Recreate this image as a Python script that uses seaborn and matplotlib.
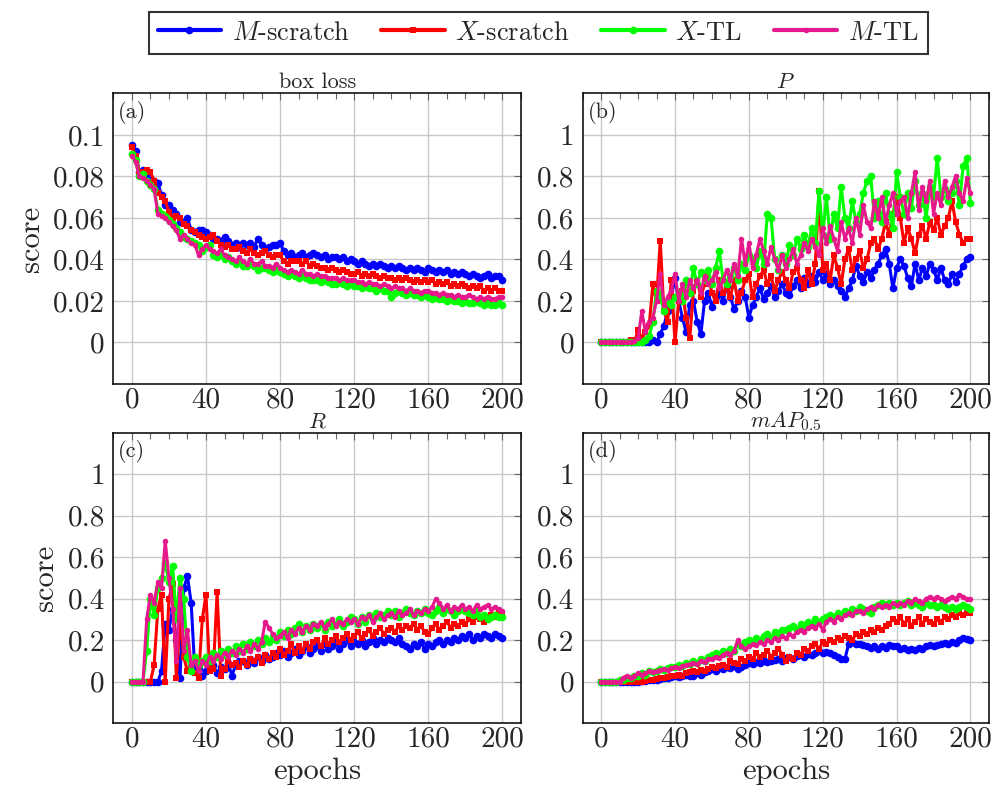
import matplotlib
matplotlib.use("Agg")
import matplotlib.pyplot as plt
import seaborn as sns
from matplotlib.ticker import MultipleLocator, FixedLocator
from matplotlib.lines import Line2D

# epochs sampled every 2
epochs = list(range(0, 201, 2))

series_names = [r"$M$-scratch", r"$X$-scratch", r"$X$-TL", r"$M$-TL"]
series_colors = ["#0000ff", "#ff0000", "#00ff00", "#e6198c"]
series_markers = ["o", "s", "o", "o"]
series_msizes = [5.5, 5.0, 5.5, 4.0]

# (a) box loss
box_m_scratch = [
    0.095, 0.092, 0.082, 0.083, 0.081, 0.079, 0.078, 0.077, 0.071, 0.066,
    0.066, 0.064, 0.062, 0.058, 0.058, 0.060, 0.054, 0.053, 0.054, 0.054,
    0.053, 0.052, 0.050, 0.050, 0.049, 0.051, 0.049, 0.047, 0.048, 0.046,
    0.048, 0.047, 0.048, 0.046, 0.050, 0.047, 0.045, 0.046, 0.047, 0.047,
    0.048, 0.044, 0.042, 0.043, 0.041, 0.042, 0.043, 0.041, 0.042, 0.043,
    0.042, 0.041, 0.042, 0.040, 0.041, 0.041, 0.040, 0.041, 0.039, 0.040,
    0.039, 0.038, 0.039, 0.038, 0.037, 0.038, 0.037, 0.038, 0.037, 0.036,
    0.037, 0.036, 0.037, 0.036, 0.035, 0.036, 0.035, 0.036, 0.035, 0.034,
    0.036, 0.035, 0.034, 0.035, 0.034, 0.035, 0.033, 0.034, 0.033, 0.034,
    0.033, 0.032, 0.033, 0.032, 0.031, 0.032, 0.033, 0.031, 0.032, 0.032,
    0.030]
box_x_scratch = [
    0.094, 0.090, 0.082, 0.082, 0.083, 0.082, 0.078, 0.072, 0.070, 0.068,
    0.063, 0.060, 0.061, 0.060, 0.057, 0.056, 0.054, 0.053, 0.052, 0.051,
    0.050, 0.051, 0.052, 0.049, 0.047, 0.046, 0.047, 0.045, 0.045, 0.046,
    0.044, 0.043, 0.045, 0.043, 0.042, 0.043, 0.044, 0.042, 0.041, 0.042,
    0.042, 0.039, 0.038, 0.039, 0.039, 0.039, 0.038, 0.039, 0.037, 0.038,
    0.037, 0.036, 0.036, 0.035, 0.036, 0.035, 0.034, 0.035, 0.034, 0.033,
    0.033, 0.034, 0.032, 0.033, 0.032, 0.033, 0.032, 0.031, 0.032, 0.031,
    0.031, 0.030, 0.031, 0.030, 0.031, 0.030, 0.029, 0.030, 0.029, 0.030,
    0.029, 0.030, 0.028, 0.029, 0.028, 0.029, 0.027, 0.028, 0.027, 0.028,
    0.027, 0.026, 0.027, 0.026, 0.027, 0.025, 0.026, 0.025, 0.026, 0.025,
    0.025]
box_x_tl = [
    0.091, 0.088, 0.080, 0.081, 0.078, 0.076, 0.074, 0.064, 0.062, 0.061,
    0.059, 0.057, 0.055, 0.053, 0.051, 0.050, 0.049, 0.048, 0.047, 0.044,
    0.046, 0.047, 0.042, 0.041, 0.042, 0.040, 0.041, 0.039, 0.038, 0.039,
    0.037, 0.037, 0.038, 0.037, 0.035, 0.036, 0.036, 0.035, 0.034, 0.035,
    0.034, 0.033, 0.032, 0.033, 0.032, 0.031, 0.032, 0.031, 0.030, 0.030,
    0.030, 0.029, 0.030, 0.029, 0.028, 0.028, 0.029, 0.028, 0.027, 0.028,
    0.027, 0.027, 0.026, 0.027, 0.026, 0.026, 0.025, 0.026, 0.025, 0.025,
    0.022, 0.024, 0.025, 0.024, 0.023, 0.024, 0.023, 0.023, 0.022, 0.023,
    0.022, 0.021, 0.022, 0.021, 0.021, 0.020, 0.021, 0.020, 0.020, 0.019,
    0.020, 0.019, 0.019, 0.020, 0.019, 0.018, 0.019, 0.018, 0.018, 0.019,
    0.018]
box_m_tl = [
    0.090, 0.087, 0.080, 0.079, 0.078, 0.076, 0.074, 0.062, 0.061, 0.060,
    0.058, 0.056, 0.054, 0.050, 0.052, 0.050, 0.048, 0.047, 0.042, 0.045,
    0.047, 0.045, 0.044, 0.043, 0.045, 0.042, 0.041, 0.040, 0.039, 0.041,
    0.039, 0.038, 0.040, 0.038, 0.038, 0.039, 0.037, 0.037, 0.036, 0.038,
    0.036, 0.035, 0.034, 0.035, 0.034, 0.033, 0.035, 0.033, 0.033, 0.032,
    0.033, 0.032, 0.032, 0.031, 0.031, 0.031, 0.030, 0.031, 0.030, 0.030,
    0.030, 0.029, 0.029, 0.028, 0.029, 0.028, 0.028, 0.027, 0.028, 0.027,
    0.026, 0.027, 0.026, 0.026, 0.025, 0.026, 0.025, 0.025, 0.024, 0.025,
    0.025, 0.024, 0.024, 0.023, 0.024, 0.023, 0.023, 0.022, 0.023, 0.022,
    0.022, 0.023, 0.022, 0.021, 0.022, 0.021, 0.022, 0.021, 0.021, 0.022,
    0.022]

# (b) precision P
p_m_scratch = [
    0, 0, 0, 0, 0, 0, 0, 0, 0, 0,
    0, 0, 0, 0, 0.01, 0.0, 0.04, 0.08, 0.15, 0.22,
    0.31, 0.2, 0.12, 0.05, 0.18, 0.2, 0.1, 0.04, 0.2, 0.24,
    0.17, 0.22, 0.25, 0.2, 0.27, 0.22, 0.16, 0.2, 0.25, 0.22,
    0.12, 0.18, 0.22, 0.26, 0.21, 0.24, 0.27, 0.22, 0.25, 0.28,
    0.24, 0.23, 0.27, 0.3, 0.26, 0.31, 0.28, 0.32, 0.29, 0.34,
    0.3, 0.33, 0.28, 0.3, 0.27, 0.25, 0.22, 0.26, 0.3, 0.37,
    0.32, 0.29, 0.34, 0.31, 0.35, 0.38, 0.42, 0.45, 0.38, 0.26,
    0.36, 0.4, 0.37, 0.31, 0.27, 0.38, 0.3, 0.36, 0.32, 0.38,
    0.35, 0.3, 0.36, 0.3, 0.28, 0.33, 0.29, 0.33, 0.37, 0.4,
    0.41]
p_x_scratch = [
    0, 0, 0, 0, 0, 0, 0, 0, 0.01, 0.0,
    0.06, 0.02, 0.05, 0.08, 0.28, 0.2, 0.49, 0.15, 0.1, 0.3,
    0.0, 0.2, 0.25, 0.12, 0.02, 0.25, 0.3, 0.22, 0.28, 0.32,
    0.24, 0.2, 0.3, 0.24, 0.26, 0.22, 0.3, 0.2, 0.24, 0.3,
    0.33, 0.22, 0.28, 0.32, 0.35, 0.28, 0.32, 0.25, 0.3, 0.34,
    0.3, 0.26, 0.34, 0.36, 0.3, 0.26, 0.35, 0.28, 0.38, 0.73,
    0.35, 0.38, 0.3, 0.42, 0.36, 0.28, 0.4, 0.45, 0.35, 0.4,
    0.44, 0.36, 0.4, 0.48, 0.5, 0.45, 0.5, 0.58, 0.52, 0.62,
    0.7, 0.6, 0.48, 0.55, 0.5, 0.43, 0.52, 0.56, 0.5, 0.58,
    0.54, 0.6, 0.52, 0.56, 0.6, 0.68, 0.58, 0.52, 0.48, 0.5,
    0.5]
p_x_tl = [
    0, 0, 0, 0, 0, 0, 0, 0, 0, 0,
    0, 0, 0.01, 0.03, 0.1, 0.25, 0.22, 0.15, 0.2, 0.18,
    0.22, 0.24, 0.2, 0.3, 0.24, 0.36, 0.28, 0.34, 0.3, 0.35,
    0.28, 0.36, 0.44, 0.3, 0.28, 0.32, 0.36, 0.3, 0.38, 0.35,
    0.42, 0.4, 0.36, 0.44, 0.38, 0.62, 0.6, 0.4, 0.35, 0.42,
    0.38, 0.47, 0.42, 0.5, 0.45, 0.52, 0.46, 0.55, 0.48, 0.73,
    0.52, 0.7, 0.5, 0.62, 0.55, 0.75, 0.6, 0.55, 0.68, 0.58,
    0.62, 0.72, 0.78, 0.8, 0.6, 0.68, 0.58, 0.72, 0.62, 0.55,
    0.82, 0.7, 0.62, 0.72, 0.65, 0.78, 0.66, 0.72, 0.6, 0.75,
    0.7, 0.89, 0.7, 0.74, 0.68, 0.72, 0.78, 0.66, 0.85, 0.89,
    0.67]
p_m_tl = [
    0, 0, 0, 0, 0, 0, 0, 0, 0, 0.005,
    0.02, 0.15, 0.05, 0.1, 0.12, 0.2, 0.33, 0.18, 0.22, 0.25,
    0.33, 0.2, 0.28, 0.22, 0.3, 0.26, 0.3, 0.24, 0.32, 0.28,
    0.3, 0.34, 0.26, 0.3, 0.35, 0.3, 0.38, 0.32, 0.5, 0.38,
    0.48, 0.36, 0.42, 0.5, 0.44, 0.38, 0.46, 0.4, 0.35, 0.42,
    0.36, 0.4, 0.45, 0.38, 0.42, 0.48, 0.44, 0.5, 0.46, 0.42,
    0.55, 0.48, 0.56, 0.5, 0.44, 0.58, 0.5, 0.55, 0.48, 0.6,
    0.52, 0.66, 0.58, 0.55, 0.68, 0.6, 0.7, 0.58, 0.66, 0.72,
    0.62, 0.68, 0.7, 0.6, 0.72, 0.82, 0.64, 0.75, 0.68, 0.78,
    0.62, 0.72, 0.66, 0.78, 0.7, 0.75, 0.8, 0.72, 0.68, 0.79,
    0.72]

# (c) recall R
r_m_scratch = [
    0, 0, 0, 0, 0, 0, 0, 0, 0.05, 0.28,
    0.25, 0.35, 0.2, 0.02, 0.45, 0.51, 0.38, 0.05, 0.06, 0.03,
    0.05, 0.06, 0.08, 0.04, 0.07, 0.06, 0.09, 0.03, 0.08, 0.1,
    0.1, 0.08, 0.11, 0.09, 0.12, 0.1, 0.13, 0.11, 0.12, 0.14,
    0.13, 0.15, 0.12, 0.14, 0.16, 0.13, 0.15, 0.17, 0.14, 0.16,
    0.17, 0.15, 0.18, 0.16, 0.17, 0.19, 0.16, 0.18, 0.2, 0.17,
    0.19, 0.18, 0.2, 0.17, 0.19, 0.21, 0.18, 0.2, 0.19, 0.21,
    0.2, 0.19, 0.21, 0.18, 0.17, 0.16, 0.18, 0.17, 0.19, 0.16,
    0.18, 0.17, 0.19, 0.2, 0.18, 0.2, 0.19, 0.21, 0.2, 0.22,
    0.21, 0.23, 0.2, 0.22, 0.21, 0.23, 0.22, 0.21, 0.23, 0.22,
    0.21]
r_x_scratch = [
    0, 0, 0, 0, 0, 0, 0.08, 0.35, 0.42, 0.0,
    0.4, 0.47, 0.02, 0.3, 0.12, 0.05, 0.08, 0.04, 0.02, 0.3,
    0.42, 0.05, 0.06, 0.43, 0.03, 0.06, 0.1, 0.08, 0.09, 0.07,
    0.1, 0.08, 0.11, 0.1, 0.12, 0.09, 0.13, 0.11, 0.14, 0.12,
    0.16, 0.13, 0.15, 0.18, 0.14, 0.17, 0.15, 0.18, 0.16, 0.19,
    0.2, 0.17, 0.21, 0.18, 0.2, 0.22, 0.19, 0.21, 0.23, 0.2,
    0.22, 0.24, 0.21, 0.23, 0.25, 0.22, 0.24, 0.26, 0.23, 0.25,
    0.26, 0.24, 0.27, 0.25, 0.27, 0.26, 0.28, 0.25, 0.27, 0.24,
    0.23, 0.26, 0.28, 0.25, 0.27, 0.29, 0.26, 0.28, 0.27, 0.29,
    0.28, 0.3, 0.29, 0.31, 0.3, 0.29, 0.31, 0.32, 0.31, 0.33,
    0.33]
r_x_tl = [
    0, 0, 0, 0, 0.15, 0.4, 0.32, 0.45, 0.5, 0.57,
    0.48, 0.56, 0.3, 0.5, 0.4, 0.12, 0.05, 0.12, 0.08, 0.1,
    0.12, 0.1, 0.14, 0.12, 0.15, 0.13, 0.16, 0.14, 0.17, 0.15,
    0.18, 0.16, 0.19, 0.17, 0.2, 0.18, 0.21, 0.19, 0.22, 0.2,
    0.24, 0.22, 0.25, 0.23, 0.26, 0.28, 0.24, 0.27, 0.25, 0.28,
    0.26, 0.28, 0.25, 0.29, 0.27, 0.28, 0.3, 0.27, 0.29, 0.31,
    0.3, 0.28, 0.31, 0.29, 0.32, 0.3, 0.33, 0.31, 0.32, 0.34,
    0.32, 0.34, 0.31, 0.33, 0.35, 0.33, 0.32, 0.34, 0.33, 0.35,
    0.33, 0.32, 0.34, 0.36, 0.33, 0.35, 0.34, 0.32, 0.34, 0.35,
    0.34, 0.33, 0.32, 0.34, 0.31, 0.32, 0.3, 0.31, 0.32, 0.31,
    0.31]
r_m_tl = [
    0, 0, 0, 0.0, 0.3, 0.42, 0.38, 0.48, 0.45, 0.68,
    0.5, 0.35, 0.1, 0.45, 0.15, 0.25, 0.08, 0.1, 0.05, 0.1,
    0.08, 0.12, 0.1, 0.13, 0.11, 0.14, 0.12, 0.15, 0.13, 0.16,
    0.14, 0.17, 0.15, 0.18, 0.16, 0.19, 0.29, 0.26, 0.23, 0.21,
    0.22, 0.24, 0.21, 0.25, 0.23, 0.26, 0.24, 0.27, 0.25, 0.28,
    0.27, 0.29, 0.26, 0.28, 0.3, 0.27, 0.29, 0.28, 0.3, 0.29,
    0.3, 0.28, 0.31, 0.3, 0.32, 0.29, 0.31, 0.33, 0.3, 0.32,
    0.33, 0.31, 0.34, 0.32, 0.33, 0.35, 0.32, 0.34, 0.33, 0.35,
    0.34, 0.36, 0.4, 0.38, 0.35, 0.37, 0.34, 0.36, 0.35, 0.37,
    0.35, 0.36, 0.34, 0.37, 0.35, 0.36, 0.37, 0.35, 0.36, 0.35,
    0.34]

# (d) mAP 0.5
map_m_scratch = [
    0, 0, 0, 0, 0, 0, 0, 0, 0, 0,
    0.0, 0.005, 0.005, 0.01, 0.01, 0.01, 0.015, 0.02, 0.02, 0.025,
    0.027, 0.025, 0.03, 0.035, 0.03, 0.03, 0.04, 0.035, 0.045, 0.05,
    0.06, 0.05, 0.065, 0.06, 0.07, 0.065, 0.075, 0.06, 0.07, 0.08,
    0.09, 0.085, 0.095, 0.09, 0.1, 0.095, 0.1, 0.105, 0.11, 0.1,
    0.115, 0.12, 0.11, 0.125, 0.13, 0.12, 0.135, 0.13, 0.14, 0.15,
    0.14, 0.145, 0.14, 0.13, 0.12, 0.11, 0.11, 0.18, 0.19, 0.18,
    0.18, 0.175, 0.17, 0.165, 0.17, 0.16, 0.17, 0.165, 0.175, 0.17,
    0.17, 0.16, 0.165, 0.155, 0.16, 0.155, 0.165, 0.16, 0.17, 0.175,
    0.17, 0.175, 0.18, 0.185, 0.18, 0.19, 0.185, 0.2, 0.21, 0.205,
    0.2]
map_x_scratch = [
    0, 0, 0, 0, 0, 0, 0, 0, 0, 0,
    0, 0, 0.005, 0.01, 0.01, 0.015, 0.02, 0.02, 0.025, 0.03,
    0.03, 0.035, 0.03, 0.04, 0.045, 0.05, 0.045, 0.055, 0.05, 0.06,
    0.07, 0.065, 0.075, 0.08, 0.07, 0.1, 0.09, 0.085, 0.11, 0.1,
    0.12, 0.11, 0.14, 0.12, 0.13, 0.15, 0.12, 0.14, 0.16, 0.13,
    0.1, 0.12, 0.11, 0.14, 0.13, 0.16, 0.15, 0.17, 0.18, 0.16,
    0.19, 0.18, 0.2, 0.19, 0.21, 0.2, 0.22, 0.21, 0.2, 0.23,
    0.22, 0.24, 0.23, 0.25, 0.24, 0.26, 0.25, 0.27, 0.28, 0.3,
    0.29, 0.31, 0.28, 0.3, 0.27, 0.29, 0.31, 0.28, 0.3, 0.29,
    0.28, 0.3, 0.29, 0.31, 0.3, 0.32, 0.31, 0.33, 0.32, 0.33,
    0.33]
map_x_tl = [
    0, 0, 0, 0, 0, 0.01, 0.01, 0.02, 0.02, 0.03,
    0.03, 0.04, 0.035, 0.05, 0.045, 0.05, 0.06, 0.055, 0.065, 0.07,
    0.07, 0.08, 0.075, 0.09, 0.085, 0.1, 0.09, 0.11, 0.1, 0.12,
    0.13, 0.14, 0.13, 0.15, 0.14, 0.16, 0.15, 0.18, 0.17, 0.19,
    0.2, 0.19, 0.21, 0.2, 0.22, 0.23, 0.21, 0.24, 0.23, 0.25,
    0.25, 0.26, 0.27, 0.25, 0.28, 0.27, 0.29, 0.28, 0.3, 0.29,
    0.3, 0.31, 0.32, 0.31, 0.33, 0.32, 0.34, 0.33, 0.35, 0.34,
    0.36, 0.35, 0.34, 0.33, 0.36, 0.37, 0.38, 0.37, 0.38, 0.37,
    0.38, 0.37, 0.38, 0.39, 0.37, 0.38, 0.37, 0.36, 0.38, 0.37,
    0.37, 0.36, 0.37, 0.36, 0.35, 0.36, 0.35, 0.36, 0.37, 0.36,
    0.35]
map_m_tl = [
    0, 0, 0, 0, 0, 0, 0.02, 0.03, 0.02, 0.03,
    0.04, 0.035, 0.04, 0.05, 0.045, 0.05, 0.055, 0.06, 0.055, 0.065,
    0.07, 0.065, 0.075, 0.08, 0.085, 0.09, 0.085, 0.1, 0.095, 0.11,
    0.11, 0.12, 0.115, 0.13, 0.14, 0.13, 0.15, 0.2, 0.17, 0.16,
    0.17, 0.18, 0.175, 0.19, 0.18, 0.2, 0.19, 0.21, 0.2, 0.22,
    0.21, 0.23, 0.22, 0.24, 0.25, 0.24, 0.26, 0.27, 0.26, 0.28,
    0.25, 0.29, 0.3, 0.29, 0.31, 0.3, 0.32, 0.33, 0.32, 0.34,
    0.34, 0.33, 0.35, 0.36, 0.35, 0.37, 0.36, 0.37, 0.36, 0.38,
    0.37, 0.38, 0.37, 0.39, 0.38, 0.4, 0.39, 0.38, 0.4, 0.41,
    0.4, 0.41, 0.4, 0.39, 0.4, 0.41, 0.4, 0.42, 0.41, 0.4,
    0.4]

panels = [
    ("box loss", "(a)", [box_m_scratch, box_x_scratch, box_x_tl, box_m_tl]),
    (r"$P$", "(b)", [p_m_scratch, p_x_scratch, p_x_tl, p_m_tl]),
    (r"$R$", "(c)", [r_m_scratch, r_x_scratch, r_x_tl, r_m_tl]),
    (r"$mAP_{0.5}$", "(d)", [map_m_scratch, map_x_scratch, map_x_tl, map_m_tl]),
]

sns.set_style("whitegrid")
plt.rcParams["font.family"] = ["cmr10", "DejaVu Serif"]
plt.rcParams["mathtext.fontset"] = "cm"
plt.rcParams["axes.unicode_minus"] = False
plt.rcParams["axes.formatter.use_mathtext"] = True

fig = plt.figure(figsize=(9.95, 8.01), dpi=100)
rects = [
    [0.1139, 0.5206, 0.4097, 0.3629],
    [0.5856, 0.5206, 0.4083, 0.3629],
    [0.1139, 0.0970, 0.4097, 0.3629],
    [0.5856, 0.0970, 0.4083, 0.3629],
]

for i, (title, tag, series) in enumerate(panels):
    ax = fig.add_axes(rects[i])
    for vals, c, m, ms in zip(series, series_colors, series_markers, series_msizes):
        sns.lineplot(x=epochs, y=vals, color=c, marker=m, markersize=ms,
                     markeredgewidth=0, linewidth=2.2, ax=ax)
    ax.set_xlim(-10, 210)
    if i == 0:
        ax.set_ylim(-0.02, 0.12)
        yt = [0, 0.02, 0.04, 0.06, 0.08, 0.1]
    else:
        ax.set_ylim(-0.2, 1.2)
        yt = [0, 0.2, 0.4, 0.6, 0.8, 1]
    ax.yaxis.set_major_locator(FixedLocator(yt))
    ax.set_yticklabels(["%g" % v for v in yt])
    ax.xaxis.set_minor_locator(MultipleLocator(10))
    ax.set_xticks([0, 40, 80, 120, 160, 200])
    ax.set_xticklabels(["0", "40", "80", "120", "160", "200"])
    ax.grid(True, which="major", color="#c8c8c8", linewidth=1.0)
    ax.tick_params(which="both", direction="in", top=True, right=True,
                   labelsize=21, color="#666666")
    ax.tick_params(which="major", length=5, width=0.8)
    ax.tick_params(axis="x", which="major", pad=2)
    ax.tick_params(axis="y", which="major", pad=6)
    ax.tick_params(which="minor", length=4, width=0.8)
    for sp in ax.spines.values():
        sp.set_color("black")
        sp.set_linewidth(1.1)
    ax.set_title(title, fontsize=16, pad=4)
    ax.text(0.012, 0.975, tag, transform=ax.transAxes, fontsize=16,
            va="top", ha="left")
    if i in (0, 2):
        ax.set_ylabel("score", fontsize=22, labelpad=6)
    else:
        ax.set_ylabel("")
    if i in (2, 3):
        ax.set_xlabel("epochs", fontsize=22, labelpad=4)
    else:
        ax.set_xlabel("")

handles = [Line2D([], [], color=c, marker=m, markersize=ms, markeredgewidth=0,
                  linewidth=3)
           for c, m, ms in zip(series_colors, series_markers, series_msizes)]
leg = fig.legend(handles, series_names, loc="center", ncol=4,
                 bbox_to_anchor=(0.541, 0.959), fontsize=19, frameon=True,
                 fancybox=False, handlelength=2.4, columnspacing=1.2,
                 handletextpad=0.4, borderpad=0.35)
leg.get_frame().set_edgecolor("black")
leg.get_frame().set_linewidth(1.5)

fig.savefig("out.png", dpi=100)
